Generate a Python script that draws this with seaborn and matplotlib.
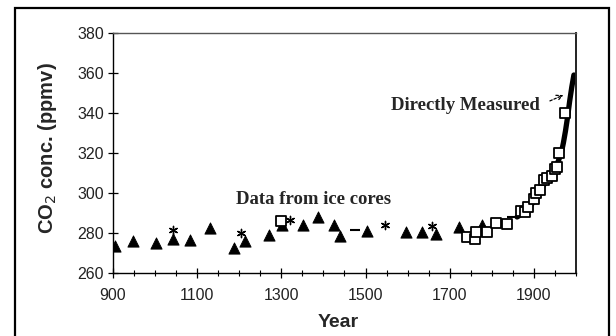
import matplotlib
matplotlib.use("Agg")
import matplotlib.pyplot as plt
from matplotlib.patches import Rectangle
from matplotlib.ticker import MultipleLocator
import seaborn as sns
import pandas as pd

sns.set_style("white")
plt.rcParams['font.family'] = ['Liberation Sans', 'DejaVu Sans']

# ice core data, filled triangles
tri_year = [905, 948, 1001, 1042, 1083, 1131, 1187, 1213, 1271, 1301, 1352, 1387,
            1426, 1439, 1503, 1597, 1635, 1667, 1721, 1777]
tri_ppm = [273.5, 276, 275, 277, 276.5, 282.5, 272.5, 276, 279, 284, 284, 288,
           284, 278.5, 281, 280.5, 280.5, 279.5, 283, 284]

# ice core data, asterisks
ast_year = [1042, 1204, 1320, 1546, 1657]
ast_ppm = [281.5, 280, 286.5, 284, 283.5]

# ice core data, dashes
dash_year = [1476, 1848]
dash_ppm = [281.4, 288]

# ice core data, open squares
sq_year = [1299, 1741, 1760, 1762, 1788, 1811, 1837, 1870, 1878, 1886, 1900, 1906,
           1914, 1923, 1930, 1942, 1950, 1956, 1960, 1974]
sq_ppm = [286, 278, 277, 280.5, 280.5, 285, 284.5, 291, 290.5, 293, 297, 300,
          301.5, 306.5, 307.5, 308.5, 312, 313, 320, 340]

# directly measured / smoothed record
line_year = [1860, 1875, 1890, 1900, 1910, 1920, 1930, 1940, 1950, 1958, 1965,
             1970, 1975, 1980, 1985, 1990, 1995]
line_ppm = [288, 290, 293, 296, 299, 303, 306, 309, 312, 316, 320,
            325, 331, 338, 346, 353, 359]

x_ticks = [900, 1100, 1300, 1500, 1700, 1900]

fig = plt.figure(figsize=(6.16, 3.36), dpi=100)
fig.patches.append(Rectangle((15 / 616, -0.02), 594 / 616, 1 - 8 / 336 + 0.02,
                             transform=fig.transFigure, fill=False,
                             edgecolor='black', linewidth=1.6))
ax = fig.add_axes([113 / 616, 63 / 336, 463 / 616, 240 / 336])

line_df = pd.DataFrame({'year': line_year, 'ppm': line_ppm})
sns.lineplot(data=line_df, x='year', y='ppm', ax=ax, color='black',
             linewidth=3.8, sort=True, zorder=2)

sns.scatterplot(x=tri_year, y=tri_ppm, ax=ax, marker='^', s=65,
                color='black', edgecolor='black', zorder=3)
sns.scatterplot(x=ast_year, y=ast_ppm, ax=ax, marker=(6, 2, 0), s=35,
                color='black', linewidth=1.0, zorder=3)
sns.scatterplot(x=dash_year, y=dash_ppm, ax=ax, marker='_', s=45,
                color='black', linewidth=1.5, zorder=3)
sns.scatterplot(x=sq_year, y=sq_ppm, ax=ax, marker='s', s=45,
                facecolor='white', edgecolor='black', linewidth=1.3, zorder=4)

ax.set_xlim(900, 2000)
ax.set_ylim(260, 380)
ax.set_xticks(x_ticks)
ax.xaxis.set_minor_locator(MultipleLocator(50))
ax.yaxis.set_major_locator(MultipleLocator(20))
ax.tick_params(axis='both', which='major', direction='inout', length=7,
               width=0.9, color='black', labelsize=11.5, labelcolor='#222222')
ax.tick_params(axis='x', which='minor', direction='inout', length=4,
               width=0.8, color='black', bottom=True)
ax.tick_params(axis='x', which='major', bottom=True, pad=7)
ax.tick_params(axis='y', which='major', left=True, pad=3)

for side in ['left', 'bottom']:
    ax.spines[side].set_color('black')
    ax.spines[side].set_linewidth(1.0)
ax.spines['top'].set_color('#555555')
ax.spines['top'].set_linewidth(1.0)
ax.spines['right'].set_color('#222222')
ax.spines['right'].set_linewidth(1.4)

ax.set_xlabel('Year', fontsize=14, fontweight='bold')
ax.set_ylabel('CO$_2$ conc. (ppmv)', fontsize=14.5, fontweight='bold')
ax.xaxis.set_label_coords(0.486, -0.17)
ax.yaxis.set_label_coords(-0.117, 0.52)

ax.text(1376, 296.5, 'Data from ice cores', ha='center', va='center',
        fontsize=13.5, fontweight='bold', family='Liberation Serif')
ax.text(1914, 343.5, 'Directly Measured', ha='right', va='center',
        fontsize=13.5, fontweight='bold', family='Liberation Serif')
ax.annotate('', xy=(1976, 349.5), xytext=(1932, 345.5),
            arrowprops=dict(arrowstyle='->', color='black', linewidth=0.9,
                            linestyle=(0, (2, 1.5))))

fig.savefig('out.png', dpi=100, facecolor='white')
